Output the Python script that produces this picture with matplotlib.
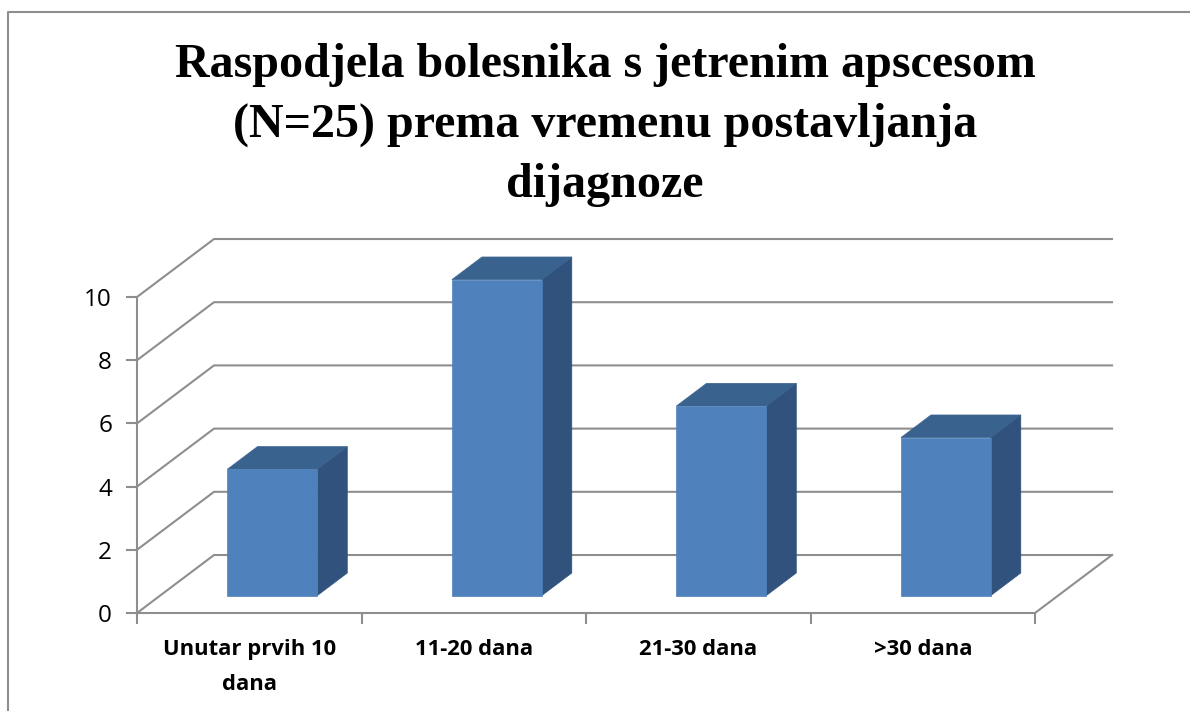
import matplotlib
matplotlib.use("Agg")
import matplotlib.pyplot as plt
from matplotlib.lines import Line2D
from matplotlib.patches import Polygon

title = "Raspodjela bolesnika s jetrenim apscesom\n(N=25) prema vremenu postavljanja\ndijagnoze"
categories = ["Unutar prvih 10\ndana", "11-20 dana", "21-30 dana", ">30 dana"]
values = [4, 10, 6, 5]
yticks = [0, 2, 4, 6, 8, 10]

W, H = 1190, 711
GREY = "#8e8e8e"

# depth of the fake 3d box, in data units
depth_x = 0.343
depth_y = 1.835
bar_w = 0.40
bar_start = 0.30   # how far back the bar sits
bar_depth = 0.39

fig = plt.figure(figsize=(W / 100, H / 100), dpi=100, facecolor="white")
ax = fig.add_axes([137 / W, 1 - 613 / H, (1035 - 137) / W, (613 - 297) / H])
ax.set_xlim(0, 4)
ax.set_ylim(0, 10)
ax.patch.set_visible(False)

for s in ["top", "right"]:
    ax.spines[s].set_visible(False)
for s in ["left", "bottom"]:
    ax.spines[s].set_color(GREY)
    ax.spines[s].set_linewidth(1.5)

ax.set_yticks(yticks)
ax.set_xticks(range(5))
ax.set_xticklabels([])
ax.tick_params(axis="both", which="major", color=GREY, width=1.5, length=8)
ax.tick_params(axis="y", labelsize=17.5, pad=10)
for t in ax.get_yticklabels():
    t.set_family("Open Sans")

ax.set_xticks([i + 0.5 for i in range(4)], minor=True)
ax.set_xticklabels(categories, minor=True, fontsize=15.8, fontweight="bold", family="Open Sans",
                   linespacing=1.88, va="top")
ax.tick_params(axis="x", which="minor", length=0, pad=18.5)

# walls and floor
for y in yticks:
    ax.plot([0, depth_x, 4 + depth_x], [y, y + depth_y, y + depth_y], color=GREY, lw=1.5,
            clip_on=False, zorder=1)
ax.plot([4, 4 + depth_x], [0, depth_y], color=GREY, lw=1.5, clip_on=False, zorder=1)

# bars
for i, v in enumerate(values):
    x0 = i + 0.5 - bar_w / 2 + bar_start * depth_x
    x1 = x0 + bar_w
    y0 = bar_start * depth_y
    y1 = y0 + v
    dx = bar_depth * depth_x
    dy = bar_depth * depth_y
    ax.add_patch(Polygon([(x1, y0), (x1 + dx, y0 + dy), (x1 + dx, y1 + dy), (x1, y1)],
                         facecolor="#30527c", edgecolor="#30527c", lw=0.5, clip_on=False, zorder=3))
    ax.add_patch(Polygon([(x0, y1), (x1, y1), (x1 + dx, y1 + dy), (x0 + dx, y1 + dy)],
                         facecolor="#3a628f", edgecolor="#3a628f", lw=0.5, clip_on=False, zorder=3))
    ax.add_patch(Polygon([(x0, y0), (x1, y0), (x1, y1), (x0, y1)],
                         facecolor="#4f81bd", edgecolor="#4f81bd", lw=0.5, clip_on=False, zorder=4))

fig.text(605 / W, 1 - 43 / H, title, ha="center", va="top", fontsize=34.6, fontweight="bold",
         family="Liberation Serif", linespacing=1.47, color="black")

# chart frame, only left and top are in the picture
fig.add_artist(Line2D([8 / W, 8 / W, 1], [0, 1 - 12 / H, 1 - 12 / H], color=GREY, lw=1.5))

fig.savefig("out.png", dpi=100)
